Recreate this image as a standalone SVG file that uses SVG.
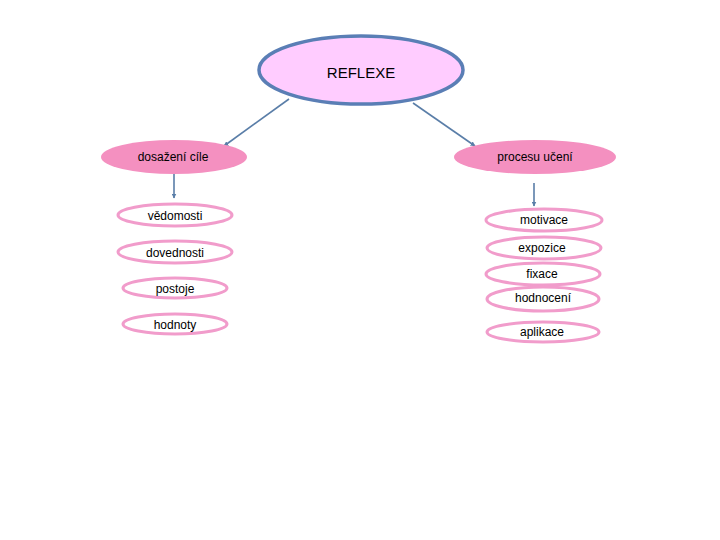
<svg xmlns="http://www.w3.org/2000/svg" width="720" height="540" viewBox="0 0 720 540">
<defs>
<style>
text{font-family:"Liberation Sans","DejaVu Sans",sans-serif;fill:#000;text-anchor:middle;dominant-baseline:central}
.root{fill:#FFCCFF;stroke:#5A7EB5;stroke-width:3.5}
.mid{fill:#F490C0;stroke:none}
.leaf{fill:#fff;stroke:#F19CCB;stroke-width:3}
.conn{stroke:#5A7EA8;stroke-width:1.6;fill:none;marker-end:url(#ah)}
.t{font-size:12px}
</style>
<marker id="ah" viewBox="0 0 10 10" refX="9" refY="5" markerWidth="5" markerHeight="5" orient="auto" markerUnits="userSpaceOnUse">
<path d="M0,0 L10,5 L0,10 z" fill="#5A7EA8"/>
</marker>
</defs>
<g id="connectors">
<line class="conn" x1="289" y1="99" x2="224" y2="146"/>
<line class="conn" x1="413" y1="103" x2="475" y2="146"/>
<line class="conn" x1="174" y1="174" x2="174" y2="198"/>
<line class="conn" x1="534" y1="183" x2="534" y2="206"/>
</g>
<g id="reflexe"><ellipse class="root" cx="361" cy="70" rx="102" ry="34"/><text x="361" y="72" style="font-size:15px">REFLEXE</text></g>
<g id="dosazeni"><ellipse class="mid" cx="174" cy="157" rx="73" ry="17"/><text class="t" x="173" y="157">dosažení cíle</text></g>
<g id="procesu"><ellipse class="mid" cx="535" cy="157" rx="81" ry="17"/><text class="t" x="535" y="157">procesu učení</text></g>
<g id="vedomosti"><ellipse class="leaf" cx="175" cy="215" rx="57" ry="11"/><text class="t" x="175" y="216">vědomosti</text></g>
<g id="dovednosti"><ellipse class="leaf" cx="175" cy="252" rx="57" ry="11"/><text class="t" x="175" y="253">dovednosti</text></g>
<g id="postoje"><ellipse class="leaf" cx="175" cy="288" rx="52" ry="10"/><text class="t" x="175" y="289">postoje</text></g>
<g id="hodnoty"><ellipse class="leaf" cx="175" cy="324" rx="52" ry="10"/><text class="t" x="175" y="325">hodnoty</text></g>
<g id="motivace"><ellipse class="leaf" cx="544" cy="220" rx="58" ry="11"/><text class="t" x="544" y="220">motivace</text></g>
<g id="expozice"><ellipse class="leaf" cx="544" cy="248" rx="57" ry="11"/><text class="t" x="542" y="248">expozice</text></g>
<g id="fixace"><ellipse class="leaf" cx="543" cy="274" rx="57" ry="11"/><text class="t" x="542" y="274">fixace</text></g>
<g id="hodnoceni"><ellipse class="leaf" cx="543" cy="299" rx="56" ry="12"/><text class="t" x="543" y="298">hodnocení</text></g>
<g id="aplikace"><ellipse class="leaf" cx="543" cy="332" rx="56" ry="10"/><text class="t" x="542" y="332">aplikace</text></g>
</svg>
